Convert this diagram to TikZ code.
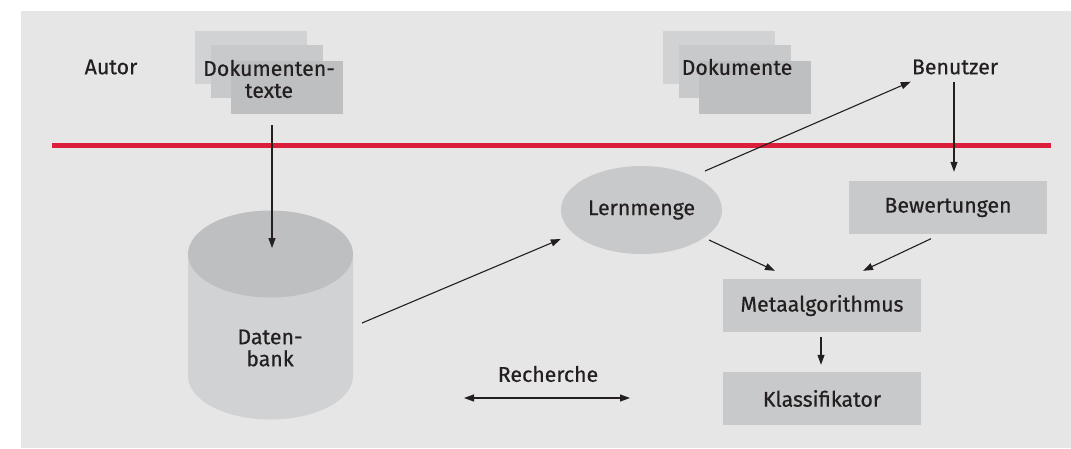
\documentclass[tikz,border=0pt]{standalone}
\usepackage{fontspec}
\newfontfamily\lblfont{Fira Sans}[FakeBold=0.5]
\usetikzlibrary{arrows.meta,calc,shapes.geometric}
\definecolor{bg}{RGB}{230,230,230}
\definecolor{g1}{RGB}{209,210,212}
\definecolor{g2}{RGB}{200,201,203}
\definecolor{g3}{RGB}{190,191,193}
\definecolor{txt}{RGB}{35,31,32}
\definecolor{redline}{RGB}{218,30,60}
\tikzset{
  lbl/.style={font=\lblfont\fontsize{21.3}{22}\selectfont, text=txt, inner sep=0pt, align=center},
  box/.style={lbl, fill=g2, minimum width=198pt, minimum height=53pt},
  sheet/.style={minimum width=112pt, minimum height=53pt, inner sep=0pt},
  conn/.style={draw=txt, line width=1.1pt, -{Triangle[length=10pt,width=7pt]}},
}
\begin{document}
\begin{tikzpicture}[x=1pt,y=-1pt]
\useasboundingbox (0,0) rectangle (1071,448);
\fill[bg] (21,11) rectangle (1071,448);
% red separator
\draw[redline, line width=4.5pt] (52,145.5) -- (1051,145.5);
% Dokumententexte stack
\node[sheet, fill=g1] (dt1) at (251,57.5) {};
\node[sheet, fill=g2] (dt2) at (267,71.5) {};
\node[sheet, fill=g3] (dt3) at (287,87.5) {};
\node[lbl] (dtext) at (269,79) {Dokumenten-\\texte};
% Dokumente stack
\node[sheet, fill=g1] (dk1) at (719,57.5) {};
\node[sheet, fill=g2] (dk2) at (735,71.5) {};
\node[sheet, fill=g3] (dk3) at (755,87.5) {};
\node[lbl] (dktext) at (737,67) {Dokumente};
% Autor, Benutzer
\node[lbl] (autor) at (111,67) {Autor};
\node[lbl] (benutzer) at (955,67) {Benutzer};
% Datenbank cylinder
\fill[g1] (188,254) -- (188,376) arc[start angle=180, end angle=360, x radius=82.5pt, y radius=43.5pt] -- (353,254) -- cycle;
\fill[g3] (270.5,254) ellipse[x radius=82.5pt, y radius=43.5pt];
\coordinate (dbtop) at (270.5,254);
\node[lbl] (db) at (270,348) {Daten-\\bank};
% Lernmenge
\node[lbl, ellipse, fill=g2, minimum width=161pt, minimum height=88pt] (lern) at (641.5,210) {Lernmenge};
% boxes
\node[box] (bew) at (948,207.5) {Bewertungen};
\node[box] (meta) at (822,305.5) {Metaalgorithmus};
\node[box] (klass) at (822,398.5) {Klassifikator};
% Recherche
\node[lbl] (rech) at (548,374) {Recherche};
\coordinate (rl) at (464,398);
\coordinate (rr) at (630,398);
% connectors
\draw[conn] ($(dt3.south)+(-15,11)$) -- ($(dbtop)+(1.5,-6)$);
\draw[conn] ($(db)+(92,-25)$) -- ($(lern.west)+(0,29)$);
\draw[conn] ($(lern)+(63.5,-39)$) -- ($(benutzer.south west)+(-1,7)$);
\draw[conn] ($(benutzer.south)+(-1,7)$) -- ($(bew.north)+(6,-9)$);
\draw[conn] ($(lern)+(67.5,30)$) -- ($(meta.north)+(-47,-8)$);
\draw[conn] ($(bew.south)+(-17,4.5)$) -- ($(meta.north)+(41,-8)$);
\draw[conn] ($(meta.south)+(-1,5)$) -- ($(klass.north)+(-1,-7)$);
\draw[conn, {Triangle[length=10pt,width=7pt]}-{Triangle[length=10pt,width=7pt]}] (rl) -- (rr);
\end{tikzpicture}
\end{document}
